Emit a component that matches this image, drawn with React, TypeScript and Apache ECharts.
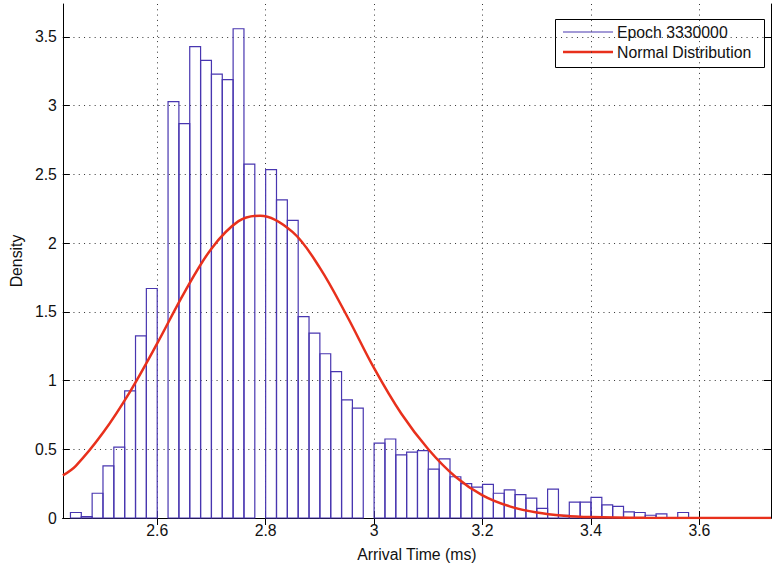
import React, { useEffect, useRef } from "react";
import * as echarts from "echarts";

// Histogram bin edges (ms) and densities
const binEdges = [
  2.44, 2.46, 2.48, 2.5, 2.52, 2.54, 2.56, 2.58, 2.6, 2.62, 2.64, 2.66, 2.68, 2.7, 2.72,
  2.74, 2.76, 2.78, 2.8, 2.82, 2.84, 2.86, 2.88, 2.9, 2.92, 2.94, 2.96, 2.98, 3.0, 3.02,
  3.04, 3.06, 3.08, 3.1, 3.12, 3.14, 3.16, 3.18, 3.2, 3.22, 3.24, 3.26, 3.28, 3.3, 3.32,
  3.34, 3.36, 3.38, 3.4, 3.42, 3.44, 3.46, 3.48, 3.5, 3.52, 3.54, 3.56, 3.58,
];
const densities = [
  0.04, 0.01, 0.18, 0.38, 0.515, 0.925, 1.325, 1.67, 0, 3.03, 2.87, 3.43, 3.33, 3.23, 3.19,
  3.56, 2.575, 0, 2.535, 2.315, 2.165, 1.465, 1.345, 1.195, 1.065, 0.86, 0.8, 0, 0.545, 0.575,
  0.46, 0.48, 0.49, 0.355, 0.43, 0.3, 0.25, 0.225, 0.245, 0.18, 0.205, 0.17, 0.145, 0.07, 0.21,
  0.02, 0.115, 0.115, 0.15, 0.095, 0.085, 0.045, 0.04, 0.02, 0.03, 0, 0.04,
];

// Normal distribution curve
const curveX = [
  2.426, 2.45, 2.5, 2.55, 2.6, 2.65, 2.7, 2.75, 2.79, 2.85, 2.9, 2.95, 3.0, 3.05, 3.1, 3.15,
  3.2, 3.25, 3.3, 3.35, 3.4, 3.5, 3.6, 3.732,
];
const curveY = [
  0.31, 0.38, 0.62, 0.92, 1.27, 1.64, 1.96, 2.16, 2.2, 2.08, 1.82, 1.47, 1.09, 0.76, 0.5, 0.3,
  0.165, 0.085, 0.04, 0.017, 0.007, 0.001, 0, 0,
];

const xTicks = [2.6, 2.8, 3.0, 3.2, 3.4, 3.6];
const yTicks = [0, 0.5, 1, 1.5, 2, 2.5, 3, 3.5];

const seriesNames = ["Epoch 3330000", "Normal Distribution"];
const xTitle = "Arrival Time (ms)";
const yTitle = "Density";

const X_MIN = 2.426;
const X_MAX = 3.732;
const Y_MAX = 3.74;

const BLUE = "#4836b0";
const RED = "#e8301c";
const FONT = "'Liberation Sans', Arial, sans-serif";
const FS = 15.8;

export default function App() {
  const ref = useRef<HTMLDivElement>(null);

  useEffect(() => {
    if (!ref.current) return;
    const chart = echarts.init(ref.current, undefined, { renderer: "svg" });

    const histData = densities.map((d, i) => [binEdges[i], binEdges[i + 1], d]);
    const curveData = curveX.map((x, i) => [x, curveY[i]]);

    const gridLine = { show: true, lineStyle: { color: "#333", width: 1, type: [1, 4.3] as any } };
    const axisLineStyle = { show: true, lineStyle: { color: "#000", width: 1 } };

    const fmt = (v: number) => String(Math.round(v * 10) / 10);

    chart.setOption({
      animation: false,
      textStyle: { fontFamily: FONT },
      grid: { left: 61, top: 4, right: 4, bottom: 53, containLabel: false },
      xAxis: [
        {
          type: "value",
          min: X_MIN,
          max: X_MAX,
          position: "bottom",
          axisLine: axisLineStyle,
          axisTick: { show: true, inside: true, length: 7, customValues: xTicks, lineStyle: { color: "#000" } },
          axisLabel: {
            show: true,
            customValues: xTicks,
            formatter: (v: number) => fmt(v),
            color: "#111",
            fontSize: FS,
            fontFamily: FONT,
            margin: 4,
          },
          splitLine: gridLine,
          name: xTitle,
          nameLocation: "middle",
          nameGap: 28,
          nameTextStyle: { color: "#111", fontSize: FS, fontFamily: FONT },
        },
        {
          type: "value",
          min: X_MIN,
          max: X_MAX,
          position: "top",
          axisLine: axisLineStyle,
          axisTick: { show: true, inside: true, length: 7, customValues: xTicks, lineStyle: { color: "#000" } },
          axisLabel: { show: false },
          splitLine: { show: false },
        },
      ],
      yAxis: [
        {
          type: "value",
          min: 0,
          max: Y_MAX,
          position: "left",
          axisLine: axisLineStyle,
          axisTick: { show: true, inside: true, length: 7, customValues: yTicks, lineStyle: { color: "#000" } },
          axisLabel: {
            show: true,
            customValues: yTicks,
            formatter: (v: number) => String(v),
            color: "#111",
            fontSize: FS,
            fontFamily: FONT,
            margin: 6,
          },
          splitLine: gridLine,
          name: yTitle,
          nameLocation: "middle",
          nameGap: 35,
          nameRotate: 90,
          nameTextStyle: { color: "#111", fontSize: FS, fontFamily: FONT },
        },
        {
          type: "value",
          min: 0,
          max: Y_MAX,
          position: "right",
          axisLine: axisLineStyle,
          axisTick: { show: true, inside: true, length: 7, customValues: yTicks, lineStyle: { color: "#000" } },
          axisLabel: { show: false },
          splitLine: { show: false },
        },
      ],
      series: [
        {
          name: seriesNames[0],
          type: "custom",
          xAxisIndex: 0,
          yAxisIndex: 0,
          encode: { x: [0, 1], y: 2 },
          data: histData,
          z: 3,
          renderItem: (params: any, api: any) => {
            const x0 = api.value(0);
            const x1 = api.value(1);
            const h = api.value(2);
            if (!(h > 0)) return null;
            const p0 = api.coord([x0, h]);
            const p1 = api.coord([x1, 0]);
            return {
              type: "rect",
              shape: { x: p0[0], y: p0[1], width: p1[0] - p0[0], height: p1[1] - p0[1] },
              style: { fill: "none", stroke: BLUE, lineWidth: 1.2 },
            };
          },
        },
        {
          name: seriesNames[1],
          type: "line",
          xAxisIndex: 0,
          yAxisIndex: 0,
          data: curveData,
          smooth: 0.35,
          showSymbol: false,
          symbol: "none",
          z: 4,
          clip: true,
          lineStyle: { color: RED, width: 2.5 },
        },
      ],
      graphic: [
        {
          type: "group",
          z: 100,
          children: [
            {
              type: "rect",
              shape: { x: 555.5, y: 19.5, width: 209, height: 48 },
              style: { fill: "#fff", stroke: "#000", lineWidth: 1 },
            },
            {
              type: "line",
              shape: { x1: 563, y1: 32, x2: 613, y2: 32 },
              style: { stroke: BLUE, lineWidth: 1.2 },
            },
            {
              type: "line",
              shape: { x1: 563, y1: 52, x2: 613, y2: 52 },
              style: { stroke: RED, lineWidth: 2.5 },
            },
            {
              type: "text",
              x: 617,
              y: 32,
              style: {
                text: seriesNames[0],
                fill: "#111",
                font: `${FS}px ${FONT}`,
                verticalAlign: "middle",
                align: "left",
              },
            },
            {
              type: "text",
              x: 617,
              y: 52,
              style: {
                text: seriesNames[1],
                fill: "#111",
                font: `${FS}px ${FONT}`,
                verticalAlign: "middle",
                align: "left",
              },
            },
          ],
        },
      ],
    });

    return () => chart.dispose();
  }, []);

  return (
    <div
      ref={ref}
      style={{ position: "fixed", left: 0, top: 0, width: 775, height: 571, background: "#fff" }}
    />
  );
}
